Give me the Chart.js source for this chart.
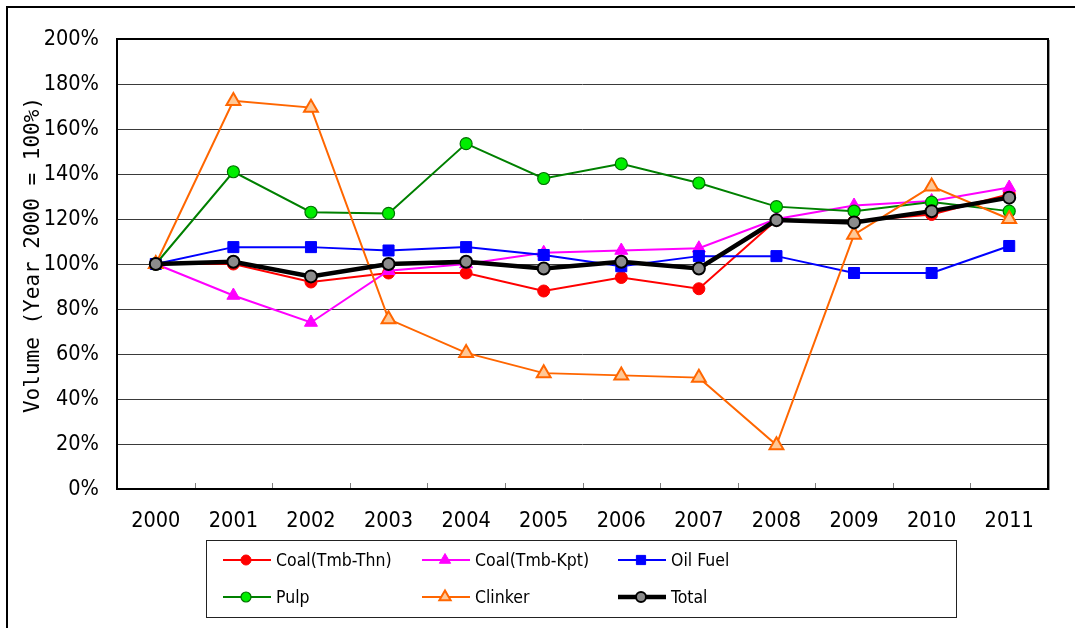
<!DOCTYPE html>
<html>
<head>
<meta charset="utf-8">
<script src="https://cdn.jsdelivr.net/npm/chart.js@4.4.0/dist/chart.umd.min.js"></script>
<style>
  html, body { margin: 0; padding: 0; background: #ffffff; }
  #wrap { width: 1075px; height: 628px; position: relative; }
</style>
</head>
<body>
<div id="wrap"><canvas id="chart" width="1075" height="628"></canvas></div>
<script>
// Categories and series (volume index, year 2000 = 100%)
const years = ['2000', '2001', '2002', '2003', '2004', '2005', '2006', '2007', '2008', '2009', '2010', '2011'];
const coalThn = [100, 100, 92, 96, 96, 88, 94, 89, 119.5, 119, 122, 131];
const coalKpt = [100, 86, 74, 97, 100, 105, 106, 107, 120, 126, 128, 134];
const oilFuel = [100, 107.5, 107.5, 106, 107.5, 104, 99, 103.5, 103.5, 96, 96, 108];
const pulp = [100, 141, 123, 122.5, 153.5, 138, 144.5, 136, 125.5, 123.5, 127.5, 123.5];
const clinker = [100, 172.5, 169.5, 75.5, 60.5, 51.5, 50.5, 49.5, 19.5, 113, 134.5, 120];
const total = [100, 101, 94.5, 100, 101, 98, 101, 98, 119.5, 118.5, 123.5, 129.5];
const yTicks = [0, 20, 40, 60, 80, 100, 120, 140, 160, 180, 200];
const yTitle = 'Volume (Year 2000 = 100%)';

const NARROW = "'DejaVu Sans Condensed', 'Liberation Sans Narrow', 'DejaVu Sans', sans-serif";
const MONO = "'DejaVu Sans Mono', 'Liberation Mono', monospace";

Chart.defaults.font.family = NARROW;
Chart.defaults.color = '#000000';

function series(label, data, s) {
  return {
    label: label,
    data: data,
    borderColor: s.line,
    borderWidth: s.width || 2,
    backgroundColor: s.fill,
    pointStyle: s.shape,
    pointRadius: s.r,
    pointHoverRadius: s.r,
    pointBackgroundColor: s.fill,
    pointBorderColor: s.edge,
    pointBorderWidth: s.edgeWidth,
    tension: 0,
    fill: false,
    order: s.order
  };
}

const datasets = [
  series('Coal(Tmb-Thn)', coalThn, { line: '#ff0000', fill: '#ff0000', edge: '#ff0000', edgeWidth: 1, shape: 'circle', r: 6, order: 5 }),
  series('Coal(Tmb-Kpt)', coalKpt, { line: '#ff00ff', fill: '#ff00ff', edge: '#ff00ff', edgeWidth: 1, shape: 'triangle', r: 7.5, order: 4 }),
  series('Oil Fuel', oilFuel, { line: '#0000ff', fill: '#0000ff', edge: '#0000ff', edgeWidth: 1, shape: 'rect', r: 7.8, order: 3 }),
  series('Pulp', pulp, { line: '#008000', fill: '#00ee00', edge: '#007000', edgeWidth: 1.2, shape: 'circle', r: 6, order: 2 }),
  series('Clinker', clinker, { line: '#ff6600', fill: '#ffc896', edge: '#ff6600', edgeWidth: 2, shape: 'triangle', r: 8, order: 1 }),
  series('Total', total, { line: '#000000', width: 4.5, fill: '#8c8c8c', edge: '#000000', edgeWidth: 2, shape: 'circle', r: 6, order: 0 })
];

// Outer frame, plot frame, inner category ticks and the rotated axis title
const framePlugin = {
  id: 'frames',
  beforeDraw(chart) {
    const ctx = chart.ctx;
    ctx.save();
    ctx.fillStyle = '#ffffff';
    ctx.fillRect(0, 0, chart.width, chart.height);
    ctx.strokeStyle = '#000000';
    ctx.lineWidth = 2;
    ctx.strokeRect(7, 7, chart.width + 20, chart.height + 20);
    ctx.restore();
  },
  beforeDatasetsDraw(chart) {
    const ctx = chart.ctx;
    const a = chart.chartArea;
    const x = chart.scales.x;
    ctx.save();
    // inner tick marks on the category boundaries
    ctx.strokeStyle = '#808080';
    ctx.lineWidth = 1;
    for (let i = 0; i < years.length - 1; i++) {
      const px = Math.round((x.getPixelForValue(i) + x.getPixelForValue(i + 1)) / 2) + 0.5;
      ctx.beginPath();
      ctx.moveTo(px, a.bottom);
      ctx.lineTo(px, a.bottom - 6);
      ctx.stroke();
    }
    // plot frame
    ctx.strokeStyle = '#000000';
    ctx.lineWidth = 2;
    ctx.strokeRect(a.left, a.top, a.right - a.left, a.bottom - a.top);
    ctx.strokeStyle = '#9a9a9a';
    ctx.lineWidth = 1;
    ctx.beginPath();
    ctx.moveTo(a.right + 1.5, a.top + 1);
    ctx.lineTo(a.right + 1.5, a.bottom + 1);
    ctx.stroke();
    // y axis title
    ctx.fillStyle = '#000000';
    ctx.font = '21px ' + MONO;
    ctx.textAlign = 'center';
    ctx.textBaseline = 'middle';
    ctx.translate(34, 255);
    ctx.rotate(-Math.PI / 2);
    ctx.fillText(yTitle, 0, 0);
    ctx.restore();
  }
};

function drawMarker(ctx, ds, x, y, r) {
  ctx.save();
  ctx.fillStyle = ds.pointBackgroundColor;
  ctx.strokeStyle = ds.pointBorderColor;
  ctx.lineWidth = ds.pointBorderWidth;
  ctx.beginPath();
  if (ds.pointStyle === 'circle') {
    ctx.arc(x, y, r, 0, Math.PI * 2);
  } else if (ds.pointStyle === 'rect') {
    const h = r * Math.SQRT1_2;
    ctx.rect(x - h, y - h, 2 * h, 2 * h);
  } else if (ds.pointStyle === 'triangle') {
    ctx.moveTo(x, y - r);
    ctx.lineTo(x + r * 0.866, y + r / 2);
    ctx.lineTo(x - r * 0.866, y + r / 2);
    ctx.closePath();
  }
  ctx.fill();
  ctx.stroke();
  ctx.restore();
}

// Boxed legend laid out in three columns and two rows
const legendPlugin = {
  id: 'boxLegend',
  afterDraw(chart) {
    const ctx = chart.ctx;
    const box = { x: 206.5, y: 540.5, w: 750, h: 77 };
    const cols = [223, 422, 618];
    const rows = [560, 597];
    ctx.save();
    ctx.strokeStyle = '#222222';
    ctx.lineWidth = 1;
    ctx.strokeRect(box.x, box.y, box.w, box.h);
    chart.data.datasets.forEach((ds, i) => {
      const x0 = cols[i % 3];
      const y0 = rows[Math.floor(i / 3)];
      ctx.strokeStyle = ds.borderColor;
      ctx.lineWidth = ds.borderWidth;
      ctx.beginPath();
      ctx.moveTo(x0, y0);
      ctx.lineTo(x0 + 48, y0);
      ctx.stroke();
      drawMarker(ctx, ds, x0 + 23, y0, ds.pointStyle === 'circle' ? 5 : 6.5);
      ctx.fillStyle = '#000000';
      ctx.font = '17.5px ' + NARROW;
      ctx.textAlign = 'left';
      ctx.textBaseline = 'middle';
      ctx.fillText(ds.label, x0 + 53, y0 + 1);
    });
    ctx.restore();
  }
};

new Chart(document.getElementById('chart'), {
  type: 'line',
  data: { labels: years, datasets: datasets },
  options: {
    responsive: false,
    animation: false,
    events: [],
    layout: { padding: { left: 0, top: 39, right: 27, bottom: 0 } },
    plugins: {
      legend: { display: false },
      tooltip: { enabled: false },
      title: { display: false }
    },
    scales: {
      x: {
        type: 'category',
        offset: true,
        grid: { display: false, drawTicks: false, offset: true },
        border: { display: false },
        ticks: { padding: 20, font: { size: 21.5 }, color: '#000000', maxRotation: 0, autoSkip: false },
        afterFit(scale) { scale.height = 139; }
      },
      y: {
        min: 0,
        max: 200,
        afterBuildTicks(scale) { scale.ticks = yTicks.map(v => ({ value: v })); },
        grid: { color: '#3a3a3a', lineWidth: 1, drawTicks: false },
        border: { display: false },
        ticks: {
          padding: 18,
          font: { size: 21.5 },
          color: '#000000',
          callback: v => v + '%'
        },
        afterFit(scale) { scale.width = 117; }
      }
    }
  },
  plugins: [framePlugin, legendPlugin]
});
</script>
</body>
</html>
